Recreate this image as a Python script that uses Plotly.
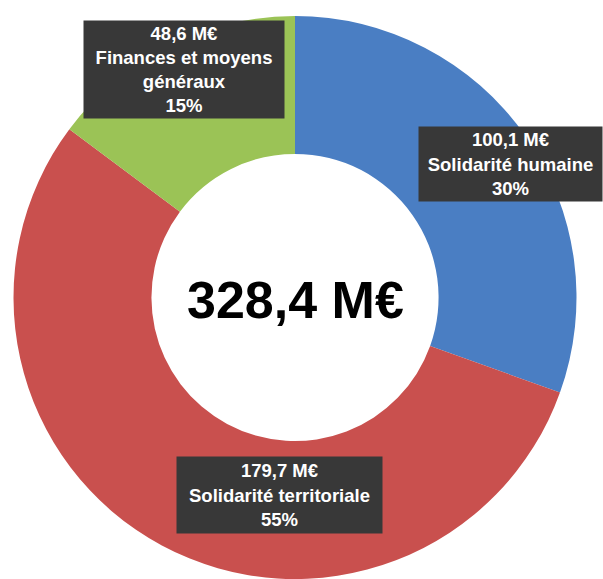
import plotly.graph_objects as go

# Data
categories = ["Solidarité humaine", "Solidarité territoriale", "Finances et moyens<br>généraux"]
values = [100.1, 179.7, 48.6]
colors = ["#4A7EC3", "#C9504E", "#9BC356"]
total_label = "328,4 M€"

total = sum(values)
pcts = [round(v / total * 100) for v in values]

def fmt(v):
    return f"{v:.1f}".replace(".", ",") + " M€"

W, H = 603, 579
fig = go.Figure()
fig.add_trace(go.Pie(
    labels=categories,
    values=values,
    marker=dict(colors=colors, line=dict(width=0)),
    hole=0.51,
    sort=False,
    direction="clockwise",
    rotation=0,
    textinfo="none",
    hoverinfo="label+value+percent",
    showlegend=False,
    domain=dict(x=[13.5 / W, 576.5 / W], y=[0, 563 / H]),
))

# label boxes: (center px x, center px y, width, height)
boxes = [(510, 163.5, 183, 74), (279.5, 494.5, 205, 76), (184, 69.5, 200, 97)]
font = "Arial, Liberation Sans, sans-serif"
for cat, v, p, (cx, cy, bw, bh) in zip(categories, values, pcts, boxes):
    fig.add_annotation(
        x=cx / W, y=1 - cy / H, xref="paper", yref="paper",
        xanchor="center", yanchor="middle",
        text=f"<b>{fmt(v)}<br>{cat}<br>{p}%</b>",
        showarrow=False, align="center",
        font=dict(family=font, size=18.5, color="white"),
        bgcolor="#383838", borderpad=0, width=bw, height=bh,
    )

fig.add_annotation(
    x=295 / W, y=1 - 300 / H, xref="paper", yref="paper",
    xanchor="center", yanchor="middle",
    text=f"<b>{total_label}</b>", showarrow=False,
    font=dict(family=font, size=52, color="black"),
)

fig.update_layout(
    width=W, height=H,
    margin=dict(l=0, r=0, t=0, b=0),
    paper_bgcolor="white", plot_bgcolor="white",
)
fig.write_html("out.html", config={"displayModeBar": False},
               post_script="document.body.style.margin='0';document.body.style.overflow='hidden';")
